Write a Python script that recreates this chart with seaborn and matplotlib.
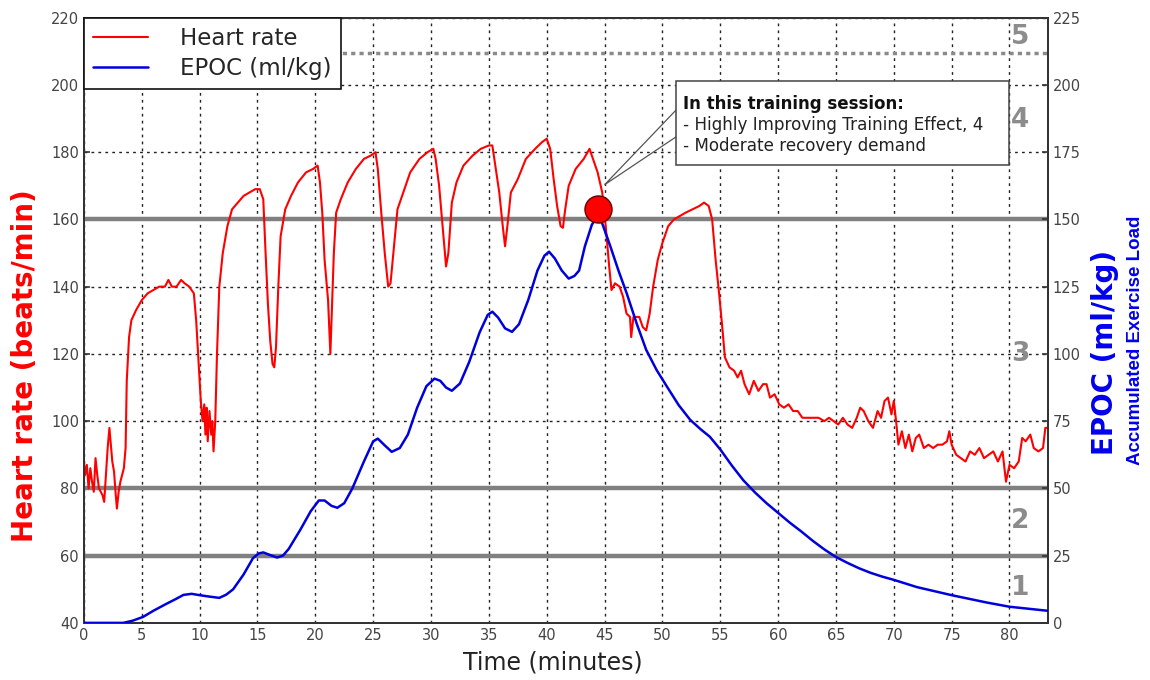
import matplotlib
matplotlib.use("Agg")
import matplotlib.pyplot as plt
import seaborn as sns
import pandas as pd
from matplotlib.patches import Polygon

sns.set_style("white")
plt.rcParams['font.family'] = ['DejaVu Sans']

# heart rate trace (minutes, beats/min)
hr_time = [0, 0.1, 0.25, 0.4, 0.55, 0.7, 0.85, 1.0, 1.15, 1.3, 1.45, 1.6, 1.75, 1.9, 2.05, 2.2,
           2.3, 2.45, 2.6, 2.75, 2.85, 3.0, 3.15, 3.3, 3.45, 3.6, 3.7, 3.9, 4.1, 4.5, 5.0, 5.5,
           6.0, 6.5, 7.0, 7.3, 7.6, 8.0, 8.4, 8.7, 9.1, 9.5, 9.7, 9.9, 10.1, 10.25, 10.4, 10.5,
           10.6, 10.7, 10.85, 11.0, 11.1, 11.2, 11.35, 11.5, 11.7, 12.0, 12.4, 12.8, 13.3, 13.8,
           14.3, 14.8, 15.2, 15.5, 15.7, 15.9, 16.1, 16.3, 16.45, 16.6, 16.8, 17.0, 17.4, 17.9,
           18.5, 19.2, 19.8, 20.2, 20.4, 20.6, 20.8, 21.1, 21.3, 21.45, 21.6, 21.8, 22.2, 22.8,
           23.5, 24.2, 24.8, 25.2, 25.4, 25.7, 26.0, 26.3, 26.5, 26.8, 27.1, 27.6, 28.2, 29.0,
           29.7, 30.2, 30.4, 30.7, 31.0, 31.3, 31.5, 31.8, 32.2, 32.8, 33.6, 34.3, 35.0, 35.3,
           35.6, 35.9, 36.2, 36.4, 36.6, 36.9, 37.5, 38.2, 39.0, 39.6, 40.0, 40.3, 40.6, 40.9,
           41.2, 41.4, 41.6, 41.9, 42.5, 43.2, 43.7, 44.0, 44.4, 44.8, 45.1, 45.4, 45.6, 45.9,
           46.3, 46.6, 46.9, 47.2, 47.3, 47.5, 48.0, 48.3, 48.6, 48.9, 49.2, 49.6, 50.0, 50.5,
           51.0, 51.5, 52.0, 52.6, 53.2, 53.6, 54.0, 54.3, 54.6, 54.9, 55.2, 55.4, 55.8, 56.2,
           56.5, 56.8, 57.1, 57.5, 57.9, 58.3, 58.7, 59.0, 59.3, 59.7, 60.1, 60.5, 60.9, 61.3,
           61.7, 62.1, 62.6, 63.0, 63.5, 64.0, 64.4, 64.8, 65.2, 65.6, 66.0, 66.4, 66.8, 67.1,
           67.4, 67.8, 68.2, 68.6, 68.9, 69.2, 69.5, 69.8, 70.0, 70.2, 70.4, 70.7, 71.0, 71.3,
           71.6, 71.9, 72.2, 72.6, 73.0, 73.4, 73.8, 74.2, 74.6, 74.8, 75.0, 75.4, 75.8, 76.2,
           76.6, 77.0, 77.4, 77.8, 78.2, 78.6, 79.0, 79.4, 79.7, 80.0, 80.4, 80.8, 81.1, 81.4,
           81.8, 82.1, 82.5, 82.9, 83.1, 83.3]
hr_bpm = [88, 84, 87, 80, 86, 82, 79, 89, 84, 80, 79, 78, 76, 84, 92, 98,
          94, 88, 85, 78, 74, 79, 82, 84, 86, 92, 112, 125, 130, 133, 136, 138,
          139, 140, 140, 142, 140, 140, 142, 141, 140, 138, 130, 118, 106, 100, 105, 96,
          104, 94, 103, 96, 100, 91, 100, 120, 140, 150, 158, 163, 165, 167,
          168, 169, 169, 166, 150, 135, 124, 117, 116, 122, 140, 155, 163, 167,
          171, 174, 175, 176, 171, 162, 148, 136, 120, 135, 150, 162, 166, 171,
          175, 178, 179, 180, 175, 162, 150, 140, 141, 152, 163, 168, 174, 178,
          180, 181, 178, 170, 158, 146, 150, 165, 171, 176, 179, 181, 182, 182,
          175, 168, 158, 152, 158, 168, 172, 178, 181, 183, 184, 181, 172, 164,
          158, 157.5, 163, 170, 175, 178, 181, 178, 174, 168, 158, 146, 139, 141,
          140, 137, 132, 131, 125, 131, 131, 128, 127, 132, 140, 148, 153, 158,
          160, 161, 162, 163, 164, 165, 164, 160, 148, 138, 127, 119, 116, 115,
          113, 115, 111, 108, 112, 109, 111, 111, 107, 108, 105, 104, 105, 103,
          103, 101, 101, 101, 101, 100, 101, 100, 99, 101, 99, 98, 101, 104,
          103, 100, 98, 103, 101, 106, 107, 102, 106, 100, 93, 97, 92, 96,
          91, 95, 96, 92, 93, 92, 93, 93, 94, 97, 93, 90, 89, 88,
          91, 90, 92, 89, 90, 91, 88, 91, 82, 87, 86, 88, 95, 94,
          96, 92, 91, 92, 98, 98]

# EPOC trace (minutes, ml/kg)
epoc_time = [0, 3.4, 4.2, 5.1, 6, 7, 8, 8.6, 9.3, 10, 10.8, 11.7, 12.3, 12.9, 13.8, 14.6,
             15.1, 15.5, 16.1, 16.7, 17.2, 17.7, 18.7, 19.6, 20.3, 20.8, 21.4, 21.9, 22.5,
             23.2, 24.2, 25.0, 25.4, 26.0, 26.6, 27.3, 28.0, 28.8, 29.6, 30.3, 30.8, 31.3,
             31.8, 32.5, 33.3, 34.2, 34.9, 35.3, 35.8, 36.4, 37.0, 37.6, 38.4, 39.2, 39.8,
             40.2, 40.7, 41.3, 41.9, 42.4, 42.8, 43.3, 43.9, 44.4, 44.8, 45.5, 46.2, 46.9,
             47.8, 48.6, 49.5, 50.4, 51.4, 52.4, 53.3, 54.1, 55.0, 56.0, 57.0, 58, 59, 60,
             61, 62, 63, 64, 65, 66, 67, 68, 69, 70, 72, 75, 78, 80, 83.3]
epoc_val = [0, 0, 0.8, 2.2, 4.5, 6.8, 9, 10.4, 10.8, 10.3, 9.8, 9.3, 10.5, 12.5, 18, 24,
            25.8, 26.2, 25.2, 24.3, 25, 27.5, 34.6, 41.5, 45.5, 45.5, 43.5, 42.8, 44.5,
            50, 60, 67.5, 68.5, 66, 63.6, 65, 70, 80, 88, 90.8, 90, 87.5,
            86.3, 89, 97, 108, 114.5, 115.7, 113.5, 109.5, 108.2, 111, 120, 131, 136.5,
            138, 135.5, 131, 128, 129, 131, 140, 148, 151.5, 148.5, 140, 131, 122.7,
            111, 101.5, 94, 87.8, 81, 75.5, 72, 69.2, 64.5, 58.5, 53, 48.5, 44.5, 40.9,
            37.3, 34, 30.5, 27.3, 24.5, 22.3, 20.3, 18.6, 17.2, 16, 13.3, 10.3, 7.6, 6, 4.5]

peak_time = 44.4
peak_epoc = 154

zone_lines_hr = [60, 80, 160]
zone5_epoc = 212
zone_labels = ["1", "2", "3", "4", "5"]
zone_label_epoc = [13, 38, 100, 187, 218]

note_title = "In this training session:"
note_lines = ["- Highly Improving Training Effect, 4", "- Moderate recovery demand"]

hr_df = pd.DataFrame({"time": hr_time, "hr": hr_bpm})
epoc_df = pd.DataFrame({"time": epoc_time, "epoc": epoc_val})

fig = plt.figure(figsize=(11.5, 6.8), dpi=100)
ax = fig.add_axes([0.073, 0.084, 0.838, 0.890])
ax2 = ax.twinx()

ax.set_xlim(0, 83.3)
ax.set_ylim(40, 220)
ax2.set_ylim(0, 225)
ax.set_xticks(range(0, 81, 5))
ax.set_yticks(range(40, 221, 20))
ax2.set_yticks(range(0, 226, 25))

ax.grid(True, color="#222222", linestyle=(0, (2, 3)), linewidth=1.0)
for y in zone_lines_hr:
    ax.axhline(y, color="#808080", linewidth=3.2, zorder=1.5)
ax2.axhline(zone5_epoc, color="#8a8a8a", linewidth=2.5, linestyle=(0, (1.2, 1.2)), zorder=1)

sns.lineplot(data=hr_df, x="time", y="hr", ax=ax, color="#ff0000", linewidth=1.5,
             label="Heart rate", legend=False, zorder=3)
sns.lineplot(data=epoc_df, x="time", y="epoc", ax=ax2, color="#0000dd", linewidth=1.8,
             label="EPOC (ml/kg)", legend=False, zorder=3)
ax2.scatter([peak_time], [peak_epoc], s=380, color="#ff0000", edgecolor="#660000",
            linewidth=1, zorder=5)

for lab, yv in zip(zone_labels, zone_label_epoc):
    ax2.text(80.9, yv, lab, fontsize=19, fontweight="bold", color="#8c8c8c",
             ha="center", va="center", zorder=4)

# callout box with pointer to the EPOC peak
wedge = Polygon([[51.2, 192.6], [45.0, 170.3], [51.2, 184.6]], closed=False, fill=False,
                edgecolor="#555555", linewidth=0.9, zorder=6)
ax.add_patch(wedge)
box = plt.Rectangle((51.2, 176.2), 28.8, 25.0, facecolor="white", edgecolor="#444444",
                    linewidth=1.1, zorder=7)
ax.add_patch(box)
ax.text(51.8, 197.0, note_title, fontsize=12, fontweight="bold", va="top", ha="left",
        color="#111111", zorder=8)
ax.text(51.8, 190.8, "\n".join(note_lines), fontsize=12.1, va="top", ha="left",
        color="#222222", zorder=8, linespacing=1.2)

for a in (ax, ax2):
    a.set_xlabel("")
    a.set_ylabel("")
    a.tick_params(direction="in", labelsize=10.5, labelcolor="#444444", length=4,
                  width=1.2, color="#333333")
    for s in a.spines.values():
        s.set_color("#333333")
        s.set_linewidth(1.4)

ax.set_zorder(1)
ax2.set_zorder(2)
ax.patch.set_visible(True)
ax2.patch.set_visible(False)

h1, l1 = ax.get_legend_handles_labels()
h2, l2 = ax2.get_legend_handles_labels()
leg = ax2.legend(h1 + h2, l1 + l2, loc="upper left", fontsize=16.5, frameon=True,
                 fancybox=False, framealpha=1, edgecolor="#111111", borderaxespad=0,
                 handlelength=2.4, borderpad=0.4, labelspacing=0.3, handletextpad=1.4)
leg.get_frame().set_linewidth(1.2)
leg.set_zorder(10)

fig.text(553 / 1150, 0.026, "Time (minutes)", fontsize=17, ha="center", va="center",
         color="#222222")
fig.text(25 / 1150, 0.463, "Heart rate (beats/min)", rotation=90, fontsize=20,
         fontweight="bold", color="#ff0000", ha="center", va="center")
fig.text(1105 / 1150, 0.482, "EPOC (ml/kg)", rotation=90, fontsize=20,
         fontweight="bold", color="#0000ee", ha="center", va="center")
fig.text(1135 / 1150, 0.50, "Accumulated Exercise Load", rotation=90, fontsize=13.5,
         fontweight="bold", color="#0000ee", ha="center", va="center",
         family=["Liberation Sans", "DejaVu Sans"])

fig.savefig("out.png", dpi=100)
